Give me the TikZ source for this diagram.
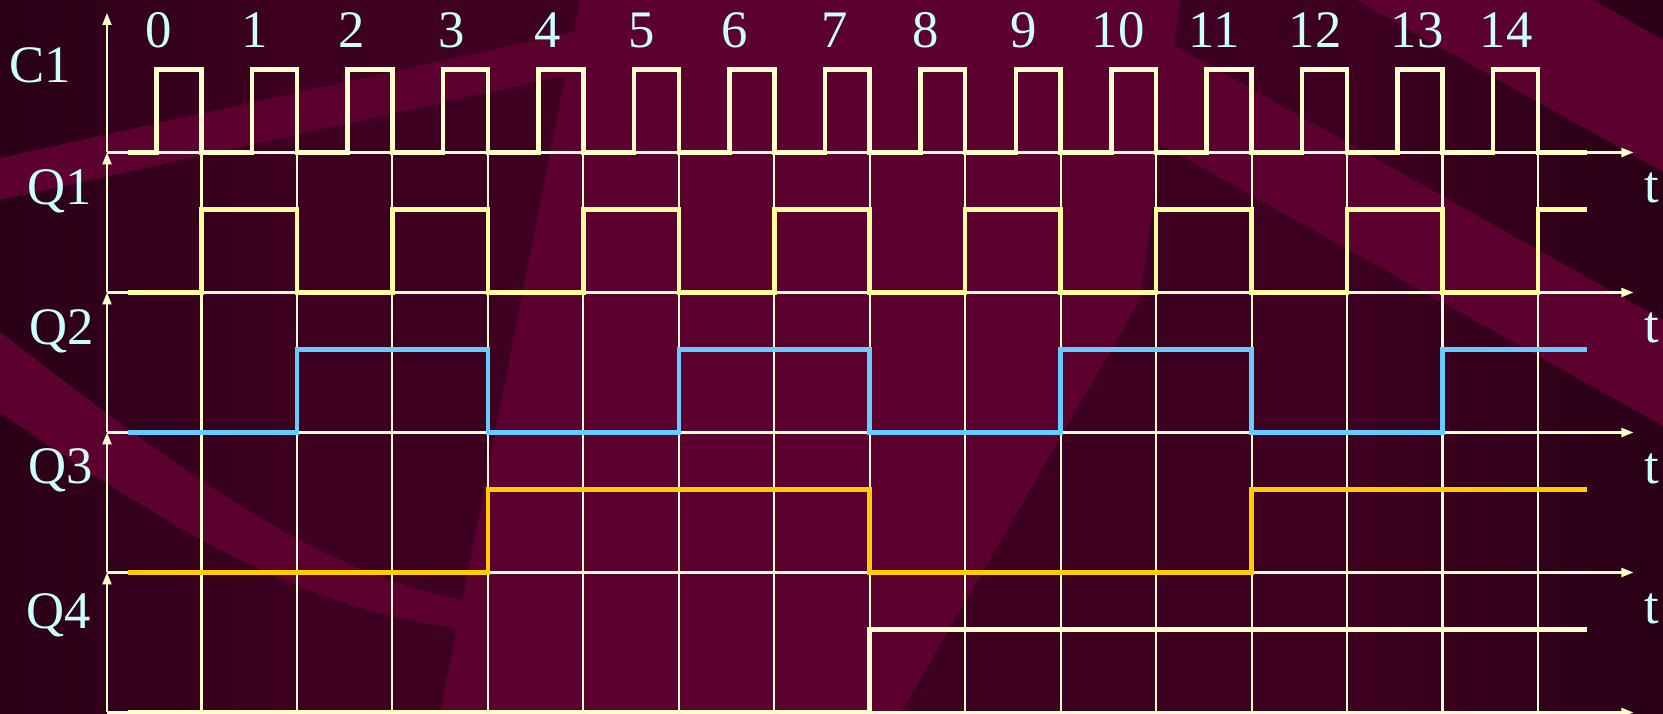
\documentclass[tikz,border=0pt]{standalone}
\usepackage{fontspec}
\setmainfont{Liberation Serif}
\usepackage{xcolor}
\usetikzlibrary{arrows.meta}

\definecolor{bgdark}{HTML}{2A0016}
\definecolor{bgbase}{HTML}{3E0020}
\definecolor{bglight}{HTML}{5C002F}
\definecolor{axisyel}{HTML}{FFFFCC}
\definecolor{labcyan}{HTML}{CCFFFF}
\definecolor{clkyel}{HTML}{FFFFCC}
\definecolor{q1yel}{HTML}{FFFF99}
\definecolor{q2blue}{HTML}{66CCFF}
\definecolor{q3gold}{HTML}{FFCC00}

\begin{document}
\begin{tikzpicture}[
    lbl/.style={text=labcyan, font=\fontsize{15}{18}\selectfont, inner sep=0pt, anchor=base},
    timeaxis/.style={draw=axisyel, line width=0.6pt, -{Triangle[length=1.2mm, width=0.9mm]}},
    gridline/.style={draw=axisyel, line width=0.6pt},
    wave/.style={line width=1.3pt}
]
    % background
    \useasboundingbox (0,0) rectangle (16.63,7.14);
    \fill[bgbase] (0,0) rectangle (16.63,7.14);
    \shade[left color=bgdark, right color=bgbase] (0,0) rectangle (3,7.14);
    \shade[left color=bgbase, right color=bgdark] (13.5,0) rectangle (16.63,7.14);
    \fill[bglight] (5.80,7.14) -- (11.8,7.14) -- (11.4,4.14) -- (9.0,0) -- (4.40,0) -- cycle;
    \fill[bglight] (0,5.56) -- (7.0,7.10) -- (7.0,6.68) -- (0,5.14) -- cycle;
    \fill[bglight] (0,3.82) .. controls (1.6,2.6) and (3.2,1.3) .. (4.9,1.1)
        -- (4.7,0.85) .. controls (3.0,1.0) and (1.5,2.0) .. (0,3.01) -- cycle;
    \fill[bglight] (13.56,7.14) -- (15.93,7.14) -- (16.63,6.74) -- (16.63,5.42) -- cycle;
    \fill[bglight] (10.93,7.14) -- (16.63,3.94) -- (16.63,2.88) -- (9.03,7.14) -- cycle;

    \begin{scope}[xshift=2.015cm, x=0.9546cm]
        % axes
        \coordinate (top) at (-0.99,7.01);
        \foreach \i/\b in {0/5.615,1/4.215,2/2.815,3/1.415,4/0.015} {
            \coordinate (o\i) at (-0.99,\b);
            \coordinate (e\i) at (15,\b);
        }
        \foreach \k in {0,...,14}
            \draw[gridline] (\k,-0.1) -- (\k,5.615);
        \draw[timeaxis] (o0) -- (top);
        \draw[timeaxis] (o1) -- (o0);
        \draw[timeaxis] (o2) -- (o1);
        \draw[timeaxis] (o3) -- (o2);
        \draw[timeaxis] (o4) -- (o3);
        \foreach \i in {0,...,4}
            \draw[timeaxis] (o\i) -- (e\i);

        % C1
        \draw[wave, clkyel] (-0.77,5.615)
            \foreach \k in {0,...,14} { -- ({\k-0.47},5.615) -- ({\k-0.47},6.445) -- (\k,6.445) -- (\k,5.615) }
            -- (14.51,5.615);
        % Q1
        \draw[wave, q1yel] (-0.77,4.215)
            \foreach \k in {0,2,...,12} { -- (\k,4.215) -- (\k,5.045) -- ({\k+1},5.045) -- ({\k+1},4.215) }
            -- (14,4.215) -- (14,5.045) -- (14.51,5.045);
        % Q2
        \draw[wave, q2blue] (-0.77,2.815) -- (1,2.815) -- (1,3.645) -- (3,3.645) -- (3,2.815)
            -- (5,2.815) -- (5,3.645) -- (7,3.645) -- (7,2.815) -- (9,2.815) -- (9,3.645)
            -- (11,3.645) -- (11,2.815) -- (13,2.815) -- (13,3.645) -- (14.51,3.645);
        % Q3
        \draw[wave, q3gold] (-0.77,1.415) -- (3,1.415) -- (3,2.245) -- (7,2.245) -- (7,1.415)
            -- (11,1.415) -- (11,2.245) -- (14.51,2.245);
        % Q4
        \draw[wave, clkyel] (-0.77,0.015) -- (7,0.015) -- (7,0.845) -- (14.51,0.845);
    \end{scope}

    % labels
    \node[lbl] (c1) at (0.40,6.31) {C1};
    \node[lbl] (q1) at (0.60,5.09) {Q1};
    \node[lbl] (q2) at (0.62,3.69) {Q2};
    \node[lbl] (q3) at (0.61,2.30) {Q3};
    \node[lbl] (q4) at (0.59,0.85) {Q4};
    \foreach \n/\x in {0/1.59,1/2.55,2/3.52,3/4.52,4/5.48,5/6.42,6/7.35,7/8.35,
                       8/9.26,9/10.24,10/11.18,11/12.14,12/13.15,13/14.17,14/15.06}
        \node[lbl] (n\n) at (\x,6.66) {\n};
    \foreach \i/\y in {1/5.11,2/3.71,3/2.30,4/0.90}
        \node[lbl] (t\i) at (16.52,\y) {t};
\end{tikzpicture}
\end{document}
